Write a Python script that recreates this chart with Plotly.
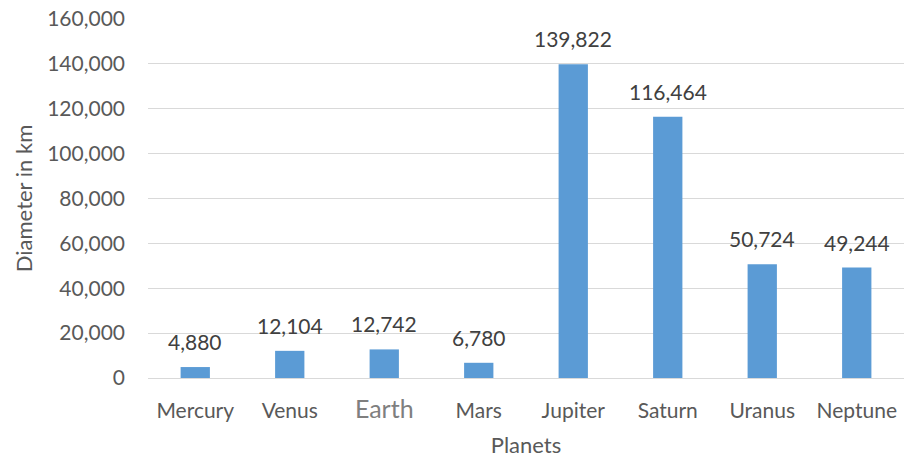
import plotly.graph_objects as go

planets = ["Mercury", "Venus", "Earth", "Mars", "Jupiter", "Saturn", "Uranus", "Neptune"]
diameters = [4880, 12104, 12742, 6780, 139822, 116464, 50724, 49244]
tick_vals = [0, 20000, 40000, 60000, 80000, 100000, 120000, 140000, 160000]
tick_text = [f"{v:,}" for v in tick_vals]

x_ticktext = [
    "<span style='font-size:25px;color:#7f7f7f'>Earth</span>" if p == "Earth" else p
    for p in planets
]

FONT = "Lato, 'Open Sans', sans-serif"

fig = go.Figure(go.Bar(
    x=planets, y=diameters,
    marker=dict(color="#5B9BD5", line=dict(width=0)),
    width=0.31,
))

for p, v in zip(planets, diameters):
    fig.add_annotation(
        x=p, y=v, text=f"{v:,}", showarrow=False,
        yanchor="bottom", yshift=11,
        font=dict(family=FONT, size=21, color="#404040"),
    )

fig.update_layout(
    width=906, height=459,
    margin=dict(l=148, r=2, t=19, b=81),
    paper_bgcolor="white", plot_bgcolor="white",
    font=dict(family=FONT, size=21, color="#595959"),
    showlegend=False,
    xaxis=dict(
        tickmode="array", tickvals=planets, ticktext=x_ticktext,
        showgrid=False, showline=True, linecolor="#d9d9d9", linewidth=1,
        ticks="", ticklabelstandoff=14, automargin=False,
        tickfont=dict(family=FONT, size=21, color="#595959"),
        title=dict(text="Planets", font=dict(family=FONT, size=22, color="#595959"), standoff=15),
    ),
    yaxis=dict(
        range=[0, 160000], tickmode="array", tickvals=tick_vals, ticktext=tick_text,
        showgrid=True, gridcolor="#d9d9d9", gridwidth=1,
        zeroline=False, showline=False, ticks="", ticklabelstandoff=22, automargin=False,
        tickfont=dict(family=FONT, size=21, color="#595959"),
        title=dict(text="Diameter in km", font=dict(family=FONT, size=22, color="#595959"), standoff=8),
    ),
)

fig.write_html(
    "out.html",
    config={"displayModeBar": False},
    post_script="document.body.style.margin='0';document.body.style.padding='0';",
)
